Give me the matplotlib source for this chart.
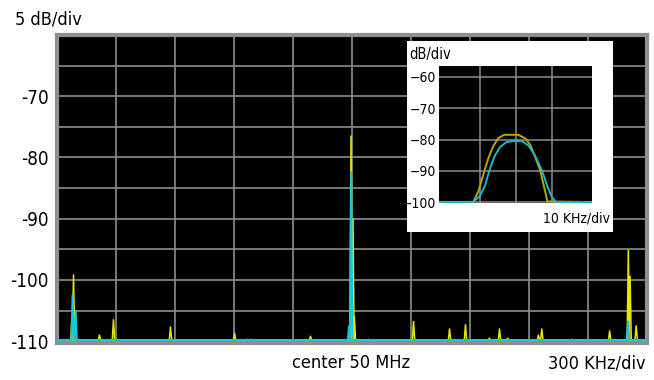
import numpy as np
import matplotlib
matplotlib.use("Agg")
import matplotlib.pyplot as plt
from matplotlib import font_manager

# narrow font like the analyzer screenshot, if one is installed
names = {f.name for f in font_manager.fontManager.ttflist}
if 'Liberation Sans Narrow' in names:
    plt.rcParams['font.family'] = ['Liberation Sans Narrow', 'DejaVu Sans']
else:
    plt.rcParams['font.family'] = ['DejaVu Sans']
    plt.rcParams['font.stretch'] = 'condensed'

# main trace: spikes as (offset kHz from 50 MHz, level dB)
yellow_freq = [-1424, -1416, -1284, -1213, -923, -684, -597, -536, -516, -211, -74,
               -5, 5, 12, 84, 313, 496, 577, 699, 750, 791, 948, 965, 1118, 1310,
               1405, 1414, 1445, 1490]
yellow_level = [-106, -99.2, -109.0, -106.5, -107.7, -109.8, -108.7, -109.7, -109.7,
                -109.2, -109.8, -76.5, -90.0, -106.0, -109.7, -106.8, -108.0, -107.3,
                -109.5, -108.0, -109.5, -109.0, -108.0, -109.7, -108.3, -95.1, -99.4,
                -107.5, -109.8]
cyan_freq = [-1421, -1405, -15, -4, 1403]
cyan_level = [-102.5, -105.0, -107.5, -82.4, -106.8]
floor_level = -109.8

# inset: zoomed carrier, offset kHz vs dB
inset_yellow_f = [-21.2, -11.8, -10.4, -9.0, -7.6, -6.3, -4.9, -3.3, 0.6, 2.5, 3.9, 5.2,
                  6.6, 8.0, 8.6, 20.9]
inset_yellow_db = [-100, -100, -96.7, -91.2, -85.9, -82.2, -79.6, -78.5, -78.5, -79.6,
                   -81.7, -85.4, -89.7, -96.5, -99.8, -100]
inset_cyan_f = [-21.2, -11.8, -9.9, -8.5, -7.2, -5.8, -4.4, -2.6, -0.7, 1.6, 3.4, 5.2,
                7.1, 8.5, 9.8, 11.0, 20.9]
inset_cyan_db = [-100, -100, -98.0, -94.6, -89.3, -85.1, -82.4, -80.8, -80.5, -80.5,
                 -81.9, -85.1, -89.8, -94.6, -98.3, -100, -100]

YEL = '#e6e600'
CYAN = '#19c6d6'
GRID = '#8c8c8c'


def spike_trace(freqs, levels, base, hw=6, span=1500):
    xs = [-span]
    ys = [base]
    for f, l in sorted(zip(freqs, levels)):
        xs += [f - hw, f, f + hw]
        ys += [base, l, base]
    xs.append(span)
    ys.append(base)
    return xs, ys


fig = plt.figure(figsize=(6.54, 3.80), dpi=100)

ax = fig.add_axes([57 / 654, (380 - 343) / 380, 590 / 654, 308 / 380])
ax.set_facecolor('black')
ax.set_xlim(-1500, 1500)
ax.set_ylim(-110.3, -60)
yt = list(range(-110, -59, 5))
ax.set_xticks(np.arange(-1500, 1501, 300))
ax.set_yticks(yt)
ax.set_yticklabels([str(v) if v % 10 == 0 and v < -60 else '' for v in yt])
ax.set_xticklabels([])
ax.tick_params(length=0, labelsize=13.5, pad=6)
ax.grid(True, color=GRID, lw=1.2)
for s in ax.spines.values():
    s.set_color('#8f8f8f')
    s.set_linewidth(3)

xs, ys = spike_trace(yellow_freq, yellow_level, floor_level)
ax.plot(xs, ys, color=YEL, lw=1.1, zorder=3)
xs, ys = spike_trace(cyan_freq, cyan_level, floor_level)
ax.plot(xs, ys, color=CYAN, lw=1.4, zorder=4)

fig.text(15 / 654, 1 - 20 / 380, '5 dB/div', fontsize=13, va='center', ha='left')
fig.text(351 / 654, 1 - 363 / 380, 'center 50 MHz', fontsize=13, va='center', ha='center')
fig.text(646 / 654, 1 - 363 / 380, '300 KHz/div', fontsize=13, va='center', ha='right')

# white inset box
box = fig.add_axes([407 / 654, (380 - 232) / 380, 206 / 654, 191 / 380])
box.set_facecolor('white')
box.set_xticks([])
box.set_yticks([])
for s in box.spines.values():
    s.set_visible(False)

ins = fig.add_axes([439 / 654, (380 - 203) / 380, 153 / 654, 137 / 380])
ins.set_facecolor('black')
ins.set_xlim(-21.2, 20.9)
ins.set_ylim(-100.3, -56.5)
ins.set_xticks([-10, 0, 10])
ins.set_xticklabels([])
ins.set_yticks([-100, -90, -80, -70, -60])
ins.tick_params(length=0, labelsize=10, pad=2)
ins.grid(True, color=GRID, lw=1.1)
for s in ins.spines.values():
    s.set_visible(False)
ins.plot(inset_yellow_f, inset_yellow_db, color='#b5a800', lw=1.4, zorder=3)
ins.plot(inset_cyan_f, inset_cyan_db, color='#1fb5c4', lw=1.4, zorder=4)

fig.text(409 / 654, 1 - 55 / 380, 'dB/div', fontsize=10.5, va='center', ha='left')
fig.text(610 / 654, 1 - 218 / 380, '10 KHz/div', fontsize=10, va='center', ha='right')

fig.savefig('out.png', dpi=100, facecolor='white')
